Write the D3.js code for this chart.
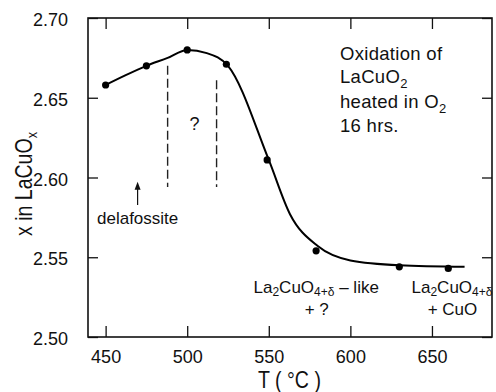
<!DOCTYPE html>
<html>
<head>
<meta charset="utf-8">
<script src="https://cdn.jsdelivr.net/npm/d3@7"></script>
<style>
  html, body { margin: 0; padding: 0; background: #fff; }
  svg { display: block; }
  text { font-family: "Liberation Sans", Arial, Helvetica, sans-serif; fill: #111; }
</style>
</head>
<body>
<svg id="chart" width="496" height="392"></svg>
<script>
// ---- data ----
const pointT = [450, 475, 500, 524, 549, 579, 630, 660];
const pointX = [2.658, 2.670, 2.680, 2.671, 2.611, 2.554, 2.544, 2.543];
const curveT = [450, 462, 475, 488, 500, 512, 525, 550, 563, 580, 600, 630, 670];
const curveX = [2.658, 2.664, 2.670, 2.675, 2.680, 2.678, 2.670, 2.611, 2.577, 2.557, 2.548, 2.545, 2.544];
const xTicks = [450, 500, 550, 600, 650];
const yTicks = [2.50, 2.55, 2.60, 2.65, 2.70];
const dashT = [488, 518];
const dashTop = [2.670, 2.661];
const dashBottom = [2.594, 2.594];
const arrowT = 469.6;
const arrowFrom = 2.5827, arrowTo = 2.5974;

const svg = d3.select("#chart");
const L = 88, R = 492, T = 18, B = 337;
const x = d3.scaleLinear().domain([439.2, 686.8]).range([L, R]);
const y = d3.scaleLinear().domain([2.5, 2.7]).range([B, T]);

// axes (box with inward ticks)
const tickLen = 11;
svg.append("g").attr("transform", `translate(0,${B})`)
  .call(d3.axisBottom(x).tickValues(xTicks).tickSizeInner(-tickLen).tickSizeOuter(0).tickPadding(13).tickFormat(d3.format("d")))
  .call(g => g.select(".domain").remove())
  .call(g => g.selectAll("line").attr("stroke", "#111").attr("stroke-width", 1.3))
  .call(g => g.selectAll("text").attr("font-size", 18).attr("fill", "#111"));
svg.append("g").attr("transform", `translate(0,${T})`)
  .call(d3.axisTop(x).tickValues(xTicks).tickSizeInner(-tickLen).tickSizeOuter(0).tickFormat(""))
  .call(g => g.select(".domain").remove())
  .call(g => g.selectAll("line").attr("stroke", "#111").attr("stroke-width", 1.3));
svg.append("g").attr("transform", `translate(${L},0)`)
  .call(d3.axisLeft(y).tickValues(yTicks).tickSizeInner(-10).tickSizeOuter(0).tickPadding(20).tickFormat(d3.format(".2f")))
  .call(g => g.select(".domain").remove())
  .call(g => g.selectAll("line").attr("stroke", "#111").attr("stroke-width", 1.3))
  .call(g => g.selectAll("text").attr("font-size", 18).attr("fill", "#111").attr("dy", "0.42em"));
svg.append("g").attr("transform", `translate(${R},0)`)
  .call(d3.axisRight(y).tickValues(yTicks).tickSizeInner(-10).tickSizeOuter(0).tickFormat(""))
  .call(g => g.select(".domain").remove())
  .call(g => g.selectAll("line").attr("stroke", "#111").attr("stroke-width", 1.3));
svg.append("rect").attr("x", L).attr("y", T).attr("width", R - L).attr("height", B - T)
  .attr("fill", "none").attr("stroke", "#111").attr("stroke-width", 1.6);

// axis titles
svg.append("text").attr("transform", `translate(289.5,388) scale(0.85,1)`)
  .attr("text-anchor", "middle").attr("font-size", 23).text("T ( °C )");
const yt = svg.append("text").attr("transform", `translate(32,184) rotate(-90) scale(0.85,1)`)
  .attr("text-anchor", "middle").attr("font-size", 23);
yt.append("tspan").text("x in LaCuO");
yt.append("tspan").attr("font-size", 15).attr("dy", 5).text("x");

// dashed boundaries
svg.append("g").selectAll("line").data(dashT).join("line")
  .attr("x1", d => x(d)).attr("x2", d => x(d))
  .attr("y1", (d, i) => y(dashTop[i])).attr("y2", (d, i) => y(dashBottom[i]))
  .attr("stroke", "#222").attr("stroke-width", 1.4).attr("stroke-dasharray", "9,4");

// fitted curve
const line = d3.line().x(d => x(d[0])).y(d => y(d[1])).curve(d3.curveMonotoneX);
svg.append("path").datum(d3.zip(curveT, curveX)).attr("d", line)
  .attr("fill", "none").attr("stroke", "#000").attr("stroke-width", 2);

// data points
svg.append("g").selectAll("circle").data(d3.zip(pointT, pointX)).join("circle")
  .attr("cx", d => x(d[0])).attr("cy", d => y(d[1])).attr("r", 3.6).attr("fill", "#000");

// arrow to delafossite
svg.append("line").attr("x1", x(arrowT)).attr("x2", x(arrowT))
  .attr("y1", y(arrowFrom)).attr("y2", y(arrowTo) + 5).attr("stroke", "#111").attr("stroke-width", 1.2);
svg.append("path")
  .attr("d", `M${x(arrowT)},${y(arrowTo)} l-3,8 l6,0 z`).attr("fill", "#111");

// annotations
svg.append("text").attr("x", 97).attr("y", 224).attr("font-size", 17).text("delafossite");
svg.append("text").attr("x", 194.5).attr("y", 130).attr("text-anchor", "middle").attr("font-size", 18).text("?");

const note = svg.append("text").attr("font-size", 18.5).attr("letter-spacing", 0.3);
note.append("tspan").attr("x", 340).attr("y", 60).text("Oxidation of");
note.append("tspan").attr("x", 340).attr("y", 83).text("LaCuO");
note.append("tspan").attr("font-size", 13).attr("dy", 5).text("2");
note.append("tspan").attr("x", 340).attr("y", 108).text("heated in O");
note.append("tspan").attr("font-size", 13).attr("dy", 5).text("2");
note.append("tspan").attr("x", 340).attr("y", 132).text("16 hrs.");

function formula(g, x0, y0, tail) {
  const t = g.append("text").attr("x", x0).attr("y", y0).attr("font-size", 17);
  t.append("tspan").text("La");
  t.append("tspan").attr("font-size", 12).attr("dy", 3).text("2");
  t.append("tspan").attr("dy", -3).text("CuO");
  t.append("tspan").attr("font-size", 12).attr("dy", 3).text("4+δ");
  if (tail) t.append("tspan").attr("dy", -3).text(tail);
  return t;
}
formula(svg, 253.5, 293, " – like");
svg.append("text").attr("x", 316.7).attr("y", 315).attr("text-anchor", "middle").attr("font-size", 17).text("+ ?");
formula(svg, 411.5, 293, null);
svg.append("text").attr("x", 452.5).attr("y", 315).attr("text-anchor", "middle").attr("font-size", 17).text("+ CuO");
</script>
</body>
</html>
